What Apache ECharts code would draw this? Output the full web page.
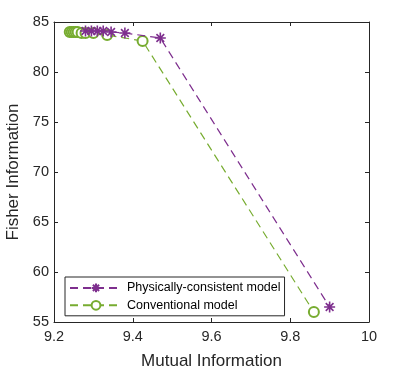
<!DOCTYPE html>
<html>
<head>
<meta charset="utf-8">
<script src="https://cdn.jsdelivr.net/npm/echarts@6/dist/echarts.min.js"></script>
<style>
  html, body { margin: 0; padding: 0; background: #fff; }
  #main { width: 411px; height: 377px; }
</style>
</head>
<body>
<div id="main"></div>
<script>
// data
var physX = [9.28, 9.295, 9.31, 9.325, 9.345, 9.38, 9.47, 9.90];
var physY = [84.1, 84.1, 84.1, 84.1, 84.0, 83.9, 83.4, 56.5];
var convX = [9.24, 9.245, 9.25, 9.255, 9.26, 9.27, 9.28, 9.30, 9.335, 9.425, 9.86];
var convY = [84.0, 84.0, 84.0, 84.0, 84.0, 83.9, 83.9, 83.9, 83.7, 83.1, 56.0];
var xTicks = [9.2, 9.4, 9.6, 9.8, 10];
var yTicks = [55, 60, 65, 70, 75, 80, 85];
var seriesNames = ['Physically-consistent model', 'Conventional model'];

function pairs(xs, ys) {
  var out = [];
  for (var i = 0; i < xs.length; i++) out.push([xs[i], ys[i]]);
  return out;
}

var chart = echarts.init(document.getElementById('main'));
var FONT = 'Liberation Sans';
var starPath = 'path://M0,-10L0,10M-10,0L10,0M-7,-7L7,7M-7,7L7,-7';

var tickAxis = {
  axisLine: { show: true, lineStyle: { color: '#262626', width: 1 } },
  axisTick: { show: true, inside: true, length: 4, lineStyle: { color: '#262626' } },
  splitLine: { show: false }
};

var option = {
  animation: false,
  color: ['#7E2F8E', '#77AC30'],
  grid: { left: 54, right: 42, top: 22, bottom: 55, containLabel: false, outerBoundsMode: 'none' },
  legend: {
    data: seriesNames,
    orient: 'vertical',
    left: 65,
    top: 277,
    itemWidth: 52,
    itemHeight: 11,
    itemGap: 4,
    padding: [4, 4, 4, 4],
    borderColor: '#262626',
    borderWidth: 1,
    backgroundColor: '#fff',
    textStyle: { fontFamily: FONT, fontSize: 12.5, color: '#000' }
  },
  xAxis: [
    Object.assign({
      type: 'value', min: 9.2, max: 10, interval: 0.2, position: 'bottom',
      name: 'Mutual Information', nameLocation: 'middle', nameGap: 31,
      nameTextStyle: { fontFamily: FONT, fontSize: 17, color: '#262626' },
      axisLabel: {
        fontFamily: FONT, fontSize: 14.5, color: '#262626', margin: 7,
        formatter: function (v) {
          var t = xTicks.filter(function (k) { return Math.abs(k - v) < 1e-6; });
          return t.length ? String(t[0]) : '';
        }
      }
    }, tickAxis),
    Object.assign({
      type: 'value', min: 9.2, max: 10, interval: 0.2, position: 'top',
      axisLabel: { show: false }
    }, tickAxis)
  ],
  yAxis: [
    Object.assign({
      type: 'value', min: 55, max: 85, interval: 5, position: 'left',
      name: 'Fisher Information', nameLocation: 'middle', nameGap: 31,
      nameTextStyle: { fontFamily: FONT, fontSize: 17, color: '#262626' },
      axisLabel: {
        fontFamily: FONT, fontSize: 14.5, color: '#262626', margin: 5,
        formatter: function (v) { return yTicks.indexOf(v) >= 0 ? String(v) : ''; }
      }
    }, tickAxis),
    Object.assign({
      type: 'value', min: 55, max: 85, interval: 5, position: 'right',
      axisLabel: { show: false }
    }, tickAxis)
  ],
  series: [
    {
      name: seriesNames[0],
      type: 'line',
      data: pairs(physX, physY),
      symbol: starPath,
      symbolSize: 11,
      symbolKeepAspect: true,
      itemStyle: { color: 'none', borderColor: '#7E2F8E', borderWidth: 1.6 },
      lineStyle: { color: '#7E2F8E', width: 1.2, type: [8, 5] },
      z: 3
    },
    {
      name: seriesNames[1],
      type: 'line',
      data: pairs(convX, convY),
      symbol: 'emptyCircle',
      symbolSize: 10,
      itemStyle: { color: '#77AC30', borderColor: '#77AC30', borderWidth: 1.4 },
      lineStyle: { color: '#77AC30', width: 1.2, type: [8, 5] },
      z: 2
    }
  ]
};

chart.setOption(option);
</script>
</body>
</html>
